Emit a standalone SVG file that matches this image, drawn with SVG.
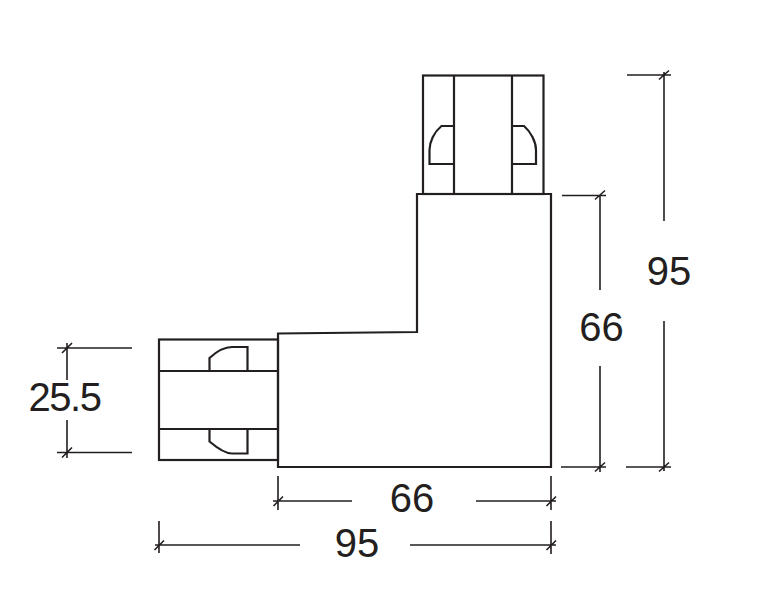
<svg xmlns="http://www.w3.org/2000/svg" width="769" height="602" viewBox="0 0 769 602">
<style>
.o{fill:none;stroke:#231f20;stroke-width:2.2;stroke-linejoin:miter}
.d{fill:none;stroke:#231f20;stroke-width:1.6}
.t{font-family:"Liberation Sans",Arial,sans-serif;font-size:40px;fill:#231f20;text-anchor:middle}
</style>
<rect width="769" height="602" fill="#fff"/>
<g id="connector-top">
<rect class="o" x="423" y="75.500" width="120.500" height="118.500"/>
<path class="o" d="M454 75.500V194M512 75.500V194"/>
<path class="o" d="M454 126H441.500C434 132 429.500 142 429.500 150V164H454"/>
<path class="o" d="M512 126H524C531 132 536 142 536 150V164H512"/>
</g>
<g id="connector-left">
<rect class="o" x="159" y="339.500" width="119" height="120.500"/>
<path class="o" d="M159 371H278M159 429H278"/>
<path class="o" d="M209.500 371V358C216 352 224 347 232 347H247.500V371"/>
<path class="o" d="M209.500 429V441.500C216 447 224 453.500 232 453.500H247.500V429"/>
</g>
<g id="body">
<path class="o" fill="#fff" d="M417 194H551V467H278V333.500L417 332Z"/>
</g>
<g id="connectors">
<path class="d" d="M562 195.500H606M561 467H606M600 195V290M600 366V472M595 199.500L605 190.500M595 471.500L605 462.500"/>
<path class="d" d="M627 75H671M626 467H671M664 72V221M664 321V471M659 79.500L669 70.500M659 471.500L669 462.500"/>
<path class="d" d="M278 476V510M551 476V510M273 501H352M476 501H556M273.500 506L283 496.500M546.500 506L556 496.500"/>
<path class="d" d="M159 521V553M551 521V554M155 545H300M410 545H556M154.500 550L164 540.500M546.500 550L556 540.500"/>
<path class="d" d="M57 348H132M57 452.500H132M67 343V380M67 420V458M62 353L72 343M62 457.500L72 447.500"/>
</g>
<g id="labels">
<text class="t" x="669" y="285">95</text>
<text class="t" x="601.500" y="341">66</text>
<text class="t" x="412" y="512">66</text>
<text class="t" x="357" y="557">95</text>
<text class="t" x="64.500" y="411" letter-spacing="-1.500">25.5</text>
</g>
</svg>
